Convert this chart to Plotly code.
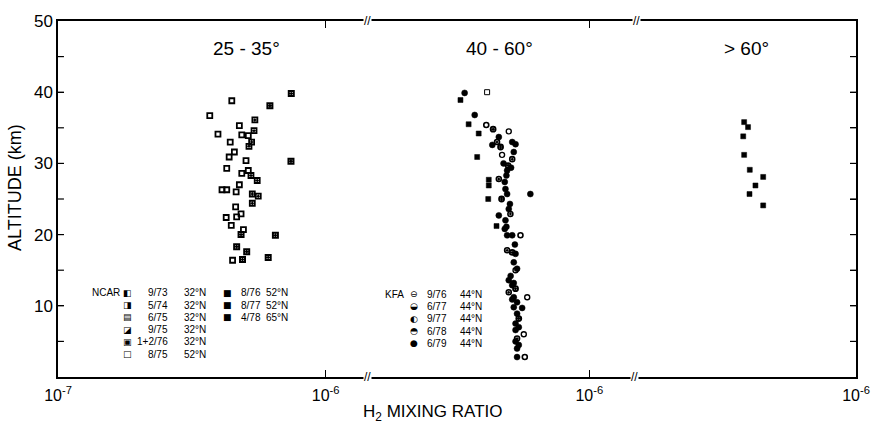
import math
import plotly.graph_objects as go

# ---------------- data (H2 mixing ratio in ppmv, altitude in km) ----------------
# NCAR 32°N flights (25-35° panel)
ncar_9_73_h2 = [0.446, 0.369, 0.396, 0.436, 0.427, 0.410, 0.425, 0.449]
ncar_9_73_alt = [38.8, 36.7, 34.1, 30.9, 29.3, 26.3, 22.4, 16.4]
ncar_5_74_h2 = [0.544, 0.540, 0.529, 0.517, 0.526, 0.555, 0.532, 0.560, 0.532]
ncar_5_74_alt = [36.1, 34.6, 33.0, 32.4, 28.3, 27.6, 25.7, 25.4, 24.4]
ncar_6_75_h2 = [0.476, 0.486, 0.514, 0.504, 0.486, 0.514, 0.476, 0.463]
ncar_6_75_alt = [35.3, 34.0, 33.9, 30.4, 28.6, 29.0, 27.0, 26.0]
ncar_9_75_h2 = [0.440, 0.456, 0.427, 0.461, 0.465, 0.483, 0.444, 0.493]
ncar_9_75_alt = [33.0, 31.6, 26.3, 23.9, 22.5, 22.9, 21.3, 20.7]
ncar_1_2_76_h2 = [0.619, 0.744, 0.742, 0.483, 0.649, 0.465, 0.507, 0.489, 0.610]
ncar_1_2_76_alt = [38.1, 39.8, 30.3, 20.0, 19.9, 18.3, 17.6, 16.5, 16.8]

# NCAR 52°N flights (40-60° panel)
ncar_8_75_h2 = [0.415]
ncar_8_75_alt = [40.0]
ncar_8_76_h2 = [0.330, 0.354, 0.386, 0.381]
ncar_8_76_alt = [38.9, 35.5, 34.2, 30.9]
ncar_8_77_h2 = [0.421, 0.421, 0.419, 0.450]
ncar_8_77_alt = [27.7, 26.9, 25.0, 21.2]

# NCAR 65°N flight (>60° panel)
ncar_4_78_h2 = [0.382, 0.395, 0.379, 0.382, 0.401, 0.450, 0.421, 0.400, 0.450]
ncar_4_78_alt = [35.8, 35.1, 33.8, 31.2, 29.1, 28.1, 26.9, 25.7, 24.1]

# KFA 44°N flights (40-60° panel)
kfa_9_76_h2 = [0.412, 0.553, 0.574]
kfa_9_76_alt = [35.4, 19.9, 2.8]
kfa_6_77_h2 = [0.437, 0.466, 0.497, 0.470, 0.515, 0.530, 0.545]
kfa_6_77_alt = [34.8, 32.3, 29.7, 25.0, 17.5, 12.4, 8.2]
kfa_9_77_h2 = [0.500, 0.586, 0.569, 0.472, 0.530]
kfa_9_77_alt = [34.5, 11.2, 6.0, 31.2, 15.0]
kfa_6_78_h2 = [0.452, 0.515, 0.459, 0.507, 0.493, 0.500, 0.537]
kfa_6_78_alt = [33.0, 30.6, 27.8, 22.9, 17.8, 11.9, 5.4]
kfa_6_79_h2 = [0.342, 0.373, 0.434, 0.459, 0.515, 0.530, 0.522, 0.493, 0.510, 0.490,
               0.483, 0.486, 0.493, 0.602, 0.500, 0.459, 0.490, 0.486, 0.483, 0.493,
               0.515, 0.530, 0.522, 0.537, 0.500, 0.515, 0.522, 0.537, 0.522, 0.561,
               0.537, 0.530, 0.530, 0.545, 0.537, 0.537, 0.522, 0.515, 0.545, 0.530,
               0.508, 0.527, 0.505, 0.478]
kfa_6_79_alt = [39.9, 36.8, 32.6, 33.7, 33.0, 32.7, 31.6, 29.0, 29.4, 28.3,
                27.4, 26.4, 25.7, 25.7, 23.6, 22.7, 21.1, 22.0, 20.8, 19.9,
                19.9, 17.3, 16.1, 15.2, 13.6, 12.9, 11.2, 10.5, 9.8, 9.7,
                8.9, 7.5, 6.6, 4.5, 4.0, 2.8, 13.2, 10.9, 7.0, 5.0,
                14.2, 18.6, 24.3, 30.0]

# text content / tick values
panel_labels = ["25 - 35°", "40 - 60°", "> 60°"]
x_major_seg1 = [1e-7, 1e-6]
x_tick_labels_seg1 = ["10<sup>-7</sup>", "10<sup>-6</sup>"]
x_major_seg23 = [1e-6]
x_tick_labels_seg23 = ["10<sup>-6</sup>"]
x_major_ticks = [1e-7, 1e-6]
x_minor_ticks = [2e-7, 3e-7, 4e-7, 5e-7, 6e-7, 7e-7, 8e-7, 9e-7]
y_tick_values = [10, 20, 30, 40, 50]
y_tick_labels = ["10", "20", "30", "40", "50"]
y_all_ticks = [5, 10, 15, 20, 25, 30, 35, 40, 45]
ncar_col1_dates = ["9/73", "5/74", "6/75", "9/75", "1+2/76", "8/75"]
ncar_col1_lats = ["32°N", "32°N", "32°N", "32°N", "32°N", "52°N"]
ncar_col2_dates = ["8/76", "8/77", "4/78"]
ncar_col2_lats = ["52°N", "52°N", "65°N"]
kfa_dates = ["9/76", "6/77", "9/77", "6/78", "6/79"]
kfa_lats = ["44°N", "44°N", "44°N", "44°N", "44°N"]

PPM = 1e-6

# ---------------- layout geometry ----------------
W, H = 882, 425
ML, MR, MT, MB = 58, 19, 20, 48
PW = W - ML - MR
PH = H - MT - MB
DEC = 270.0  # px per decade


def px(x):
    return (x - ML) / PW


def py(y):
    return (H - MB - y) / PH


FONT = "Liberation Sans, Arial, sans-serif"
SYMFONT = "DejaVu Sans"
BLACK = "black"

B1, B2, RIGHT = 370, 642, W - MR
seg1_range = [-7, -7 + (B1 - ML) / DEC]
seg2_range = [-6 - (594 - B1) / DEC, -6 + (B2 - 594) / DEC]
seg3_range = [-6 - (RIGHT - B2) / DEC, -6]
doms = [[0, px(B1)], [px(B1), px(B2)], [px(B2), 1]]
rngs = [seg1_range, seg2_range, seg3_range]

fig = go.Figure()


def add(xv, yv, axis, symbol, size=5, lw=1.5, yaxis="y"):
    fig.add_trace(go.Scatter(
        x=[v * PPM for v in xv], y=yv, mode="markers",
        xaxis=axis, yaxis=yaxis, showlegend=False, hoverinfo="skip",
        marker=dict(symbol=symbol, size=size, color=BLACK,
                    line=dict(color=BLACK, width=lw))))


# 25-35° panel
add(ncar_9_73_h2, ncar_9_73_alt, "x", "square-open", 5, 1.8)
add(ncar_5_74_h2, ncar_5_74_alt, "x", "square-open-dot", 5, 1.8)
add(ncar_6_75_h2, ncar_6_75_alt, "x", "square-open", 5, 1.8)
add(ncar_9_75_h2, ncar_9_75_alt, "x", "square-open", 5, 1.8)
add(ncar_1_2_76_h2, ncar_1_2_76_alt, "x", "square-open-dot", 5, 2)
# 40-60° panel
add(ncar_8_75_h2, ncar_8_75_alt, "x2", "square-open", 5, 1)
add(ncar_8_76_h2, ncar_8_76_alt, "x2", "square", 5, 0.5)
add(ncar_8_77_h2, ncar_8_77_alt, "x2", "square", 5, 0.5)
add(kfa_9_76_h2, kfa_9_76_alt, "x2", "circle-open", 5, 1.6)
add(kfa_6_77_h2, kfa_6_77_alt, "x2", "circle-open-dot", 5, 1.8)
add(kfa_9_77_h2, kfa_9_77_alt, "x2", "circle-open", 5, 1.4)
add(kfa_6_78_h2, kfa_6_78_alt, "x2", "circle-open-dot", 5, 1.6)
add(kfa_6_79_h2, kfa_6_79_alt, "x2", "circle", 6, 0.5)
# >60° panel
add(ncar_4_78_h2, ncar_4_78_alt, "x3", "square", 5, 0.5, yaxis="y2")

axline = dict(showline=True, linecolor=BLACK, linewidth=1.5, showgrid=False,
              zeroline=False, ticks="inside", tickwidth=1.2, tickcolor=BLACK)


def xmajor(i, vals, labels):
    return dict(axline, type="log", domain=doms[i], range=rngs[i], anchor="y",
                mirror="ticks", ticklen=7, tickmode="array", tickvals=vals,
                ticktext=labels, ticklabelstandoff=3,
                tickfont=dict(family=FONT, size=16, color=BLACK))


yax = dict(axline, range=[0, 50], domain=[0, 1], ticklen=6, tickmode="array",
           tickvals=y_tick_values, ticktext=y_tick_labels,
           tickfont=dict(family=FONT, size=17, color=BLACK))

# ---- tick marks drawn as axis-referenced shapes (guarantees all four sides) ----
shapes = []
TW = 1.2


def tick_x(axref, val, length_px):
    lx = math.log10(val)
    f = length_px / PH
    for y0, y1 in [(0, f), (1 - f, 1)]:
        shapes.append(dict(type="line", xref=axref, yref="paper", x0=lx, x1=lx,
                           y0=y0, y1=y1, layer="above",
                           line=dict(color=BLACK, width=TW)))


for i, axref in enumerate(["x", "x2", "x3"]):
    lo, hi = rngs[i]
    for v in x_major_ticks:
        if lo - 1e-9 <= math.log10(v) <= hi + 1e-9:
            tick_x(axref, v, 7)
    for v in x_minor_ticks:
        if lo < math.log10(v) < hi:
            tick_x(axref, v, 4)

fy = 6 / PW
for v in y_all_ticks:
    for x0, x1 in [(0, fy), (1 - fy, 1)]:
        shapes.append(dict(type="line", xref="paper", yref="y", x0=x0, x1=x1,
                           y0=v, y1=v, layer="above",
                           line=dict(color=BLACK, width=TW)))

fig.update_layout(
    width=W, height=H,
    margin=dict(l=ML, r=MR, t=MT, b=MB, pad=0),
    paper_bgcolor="white", plot_bgcolor="rgba(0,0,0,0)",
    showlegend=False,
    xaxis=xmajor(0, x_major_seg1, x_tick_labels_seg1),
    xaxis2=xmajor(1, x_major_seg23, x_tick_labels_seg23),
    xaxis3=xmajor(2, x_major_seg23, x_tick_labels_seg23),
    yaxis=dict(yax, anchor="x", side="left"),
    yaxis2=dict(yax, anchor="x3", side="right", overlaying="y", showticklabels=False,
                tickvals=y_all_ticks, ticktext=None),
    shapes=shapes,
)

ann = []


def text(x, y, s, size, xanchor="center", yanchor="middle", angle=0, family=FONT):
    ann.append(dict(x=px(x), y=py(y), xref="paper", yref="paper", text=s,
                    showarrow=False, xanchor=xanchor, yanchor=yanchor,
                    textangle=angle,
                    font=dict(family=family, size=size, color=BLACK)))


# panel labels
for lab, xc in zip(panel_labels, [248, 503, 753]):
    text(xc, 48, lab, 19)

# axis titles
text(14, 187, "ALTITUDE (km)", 18, angle=-90)
text(436, 413, "H<sub>2</sub> MIXING RATIO", 17)

# axis break marks
for bx, by in [(B1, MT), (B2, MT), (B1, H - MB), (B2 - 2, H - MB)]:
    ann.append(dict(x=px(bx), y=py(by), xref="paper", yref="paper", text="//",
                    showarrow=False, xanchor="center", yanchor="middle",
                    bgcolor="white", borderpad=0,
                    font=dict(family=FONT, size=12, color=BLACK)))

# legend blocks
rows = [292.7, 305, 317.3, 329.5, 341.7, 354]
LSZ = 10
text(90, rows[0], "NCAR", LSZ, xanchor="left")
ncar_col1_keys = ["◧", "◨", "▤", "◪", "▣", "□"]
for r, k, d, l in zip(rows, ncar_col1_keys, ncar_col1_dates, ncar_col1_lats):
    text(128, r, k, 9, family=SYMFONT)
    text(171, r, d, LSZ, xanchor="right")
    text(183, r, l, LSZ, xanchor="left")
for r, d, l in zip(rows, ncar_col2_dates, ncar_col2_lats):
    text(229, r, "■", 9, family=SYMFONT)
    text(241, r, d, LSZ, xanchor="left")
    text(266, r, l, LSZ, xanchor="left")

krows = [294, 306.3, 318.6, 330.9, 343.2]
text(386, krows[0], "KFA", LSZ, xanchor="left")
kfa_keys = ["⊖", "◒", "◐", "◓", "●"]
for r, k, d, l in zip(krows, kfa_keys, kfa_dates, kfa_lats):
    text(417, r, k, 9, family=SYMFONT)
    text(428, r, d, LSZ, xanchor="left")
    text(462, r, l, LSZ, xanchor="left")

fig.update_layout(annotations=ann)

fig.write_html("out.html")
